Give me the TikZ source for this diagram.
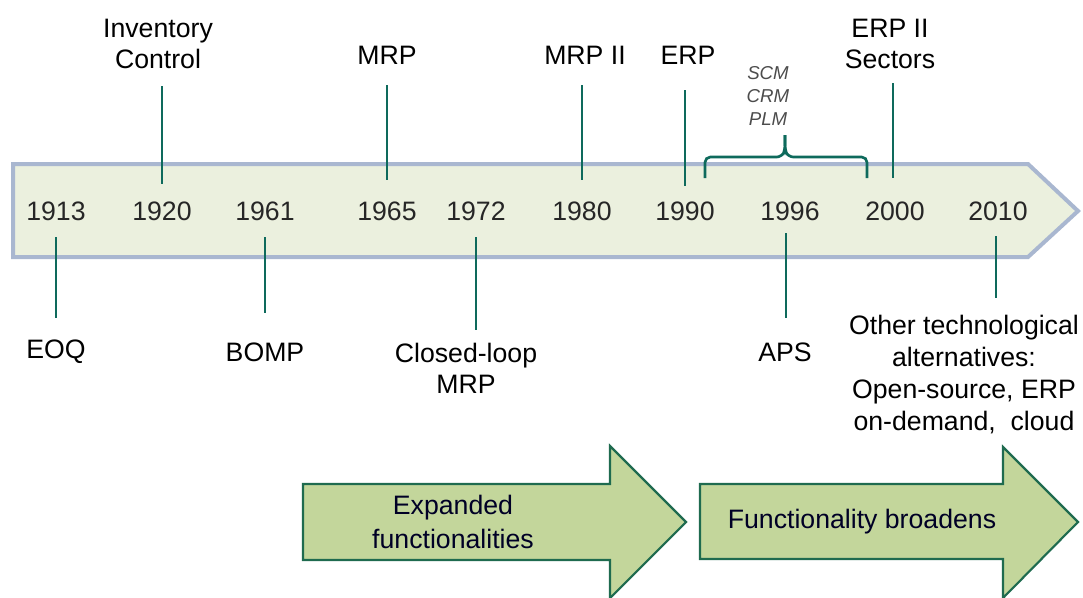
\documentclass[tikz,border=0pt]{standalone}
\usepackage{fontspec}
\setmainfont{Liberation Sans}
\begin{document}
\begin{tikzpicture}[x=0.75pt,y=-0.75pt,
  lbl/.style={font=\fontsize{20}{23}\selectfont, inner sep=0pt, align=center, text=black},
  yr/.style={font=\fontsize{20}{23}\selectfont, inner sep=0pt, text=black!85},
  tick/.style={draw=tealline, line width=2pt},
  bigarrow/.style={fill=arrowfill, draw=arrowline, line width=1.6pt, line join=miter},
  small/.style={font=\fontsize{14}{17}\itshape\selectfont, inner sep=0pt, align=center, text=black!70}]
\definecolor{tealline}{HTML}{0E6A5C}
\definecolor{bandfill}{HTML}{EBF0DE}
\definecolor{bandline}{HTML}{A9B7D0}
\definecolor{arrowfill}{HTML}{C3D69B}
\definecolor{arrowline}{HTML}{1F6B4F}
\useasboundingbox (0,0) rectangle (1083,597);
% band
\draw[fill=bandfill, draw=bandline, line width=3pt, line join=miter]
  (13,164) -- (1028,164) -- (1078,211) -- (1028,257) -- (13,257) -- cycle;
% years
\node[yr] (y1913) at (56,211) {1913};
\node[yr] (y1920) at (162,211) {1920};
\node[yr] (y1961) at (265,211) {1961};
\node[yr] (y1965) at (387,211) {1965};
\node[yr] (y1972) at (476,211) {1972};
\node[yr] (y1980) at (582,211) {1980};
\node[yr] (y1990) at (685,211) {1990};
\node[yr] (y1996) at (790,211) {1996};
\node[yr] (y2000) at (895,211) {2000};
\node[yr] (y2010) at (998,211) {2010};
% top labels
\node[lbl] (inv) at (158,44) {Inventory\\Control};
\node[lbl] (mrp) at (387,55) {MRP};
\node[lbl] (mrp2) at (585,55) {MRP II};
\node[lbl] (erp) at (688,55) {ERP};
\node[lbl] (erp2) at (890,44) {ERP II\\Sectors};
\node[small] (scm) at (768,96) {SCM\\CRM\\PLM};
% bottom labels
\node[lbl] (eoq) at (56,352) {EOQ};
\node[lbl] (bomp) at (265,352) {BOMP};
\node[lbl] (clmrp) at (466,368) {Closed-loop\\MRP};
\node[lbl] (aps) at (785,352) {APS};
\node[lbl, font=\fontsize{20}{24}\selectfont] (other) at (964,375) {Other technological\\alternatives:\\Open-source, ERP\\on-demand,\ \ cloud};
% tick coordinates
\coordinate (t1920) at (162,184);
\coordinate (t1965) at (387,180);
\coordinate (t1980) at (582,180);
\coordinate (t1990) at (685,186);
\coordinate (t2000) at (893,178);
\coordinate (b1913) at (56,237);
\coordinate (b1961) at (265,237);
\coordinate (b1972) at (476,237);
\coordinate (b1996) at (786,233);
\coordinate (b2010) at (996,236);
\draw[tick] (162,86) -- (t1920);
\draw[tick] (387,85) -- (t1965);
\draw[tick] (582,85) -- (t1980);
\draw[tick] (685,90) -- (t1990);
\draw[tick] (893,83) -- (t2000);
\draw[tick] (b1913) -- (56,318);
\draw[tick] (b1961) -- (265,313);
\draw[tick] (b1972) -- (476,330);
\draw[tick] (b1996) -- (786,318);
\draw[tick] (b2010) -- (996,298);
% brace
\coordinate (brl) at (705,178);
\coordinate (brr) at (867,178);
\coordinate (brt) at (785,135);
\draw[tick, rounded corners=4pt] (brl) -- (705,157) -- (782,157) -- (785,150) -- (brt);
\draw[tick, rounded corners=4pt] (brt) -- (785,150) -- (788,157) -- (867,157) -- (brr);
% big arrows
\draw[bigarrow] (303,484) -- (610,484) -- (610,446) -- (686,522) -- (610,598) -- (610,560) -- (303,560) -- cycle;
\node[lbl, text=black!85!blue, font=\fontsize{20}{26}\selectfont] (exp) at (453,522) {Expanded\\functionalities};
\draw[bigarrow] (700,484) -- (1003,484) -- (1003,447) -- (1078,522) -- (1003,598) -- (1003,559) -- (700,559) -- cycle;
\node[lbl, text=black!85!blue] (func) at (862,522) {Functionality broadens};
\end{tikzpicture}
\end{document}
